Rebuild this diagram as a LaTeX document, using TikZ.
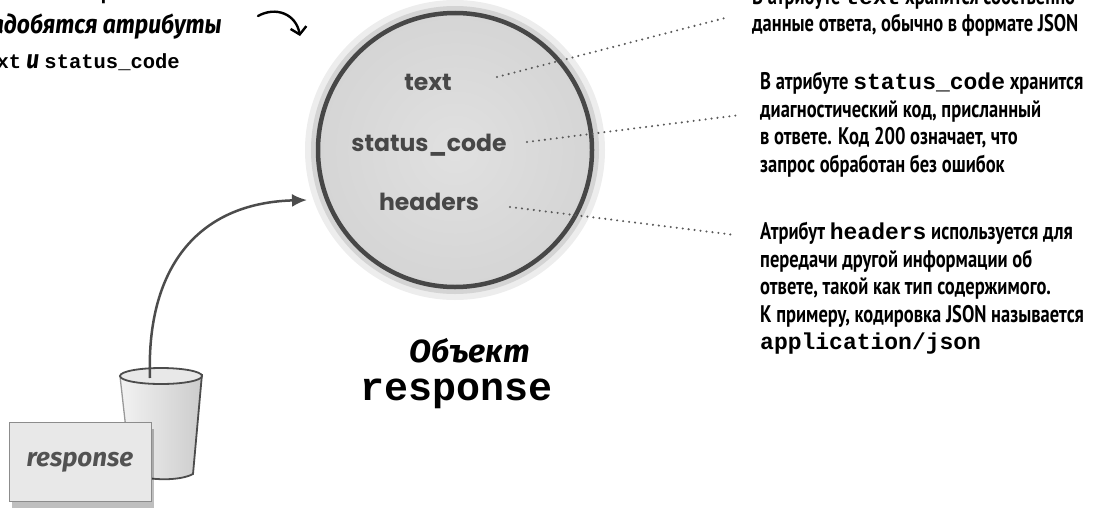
\documentclass[tikz,border=0pt]{standalone}
\usepackage{fontspec}
\setmainfont{PT Sans}
\newfontfamily\notefont[FakeStretch=0.77]{PT Sans}
\newfontfamily\codefont{Liberation Mono}
\newfontfamily\handfont{Fira Sans}
\newfontfamily\sketchfont[FakeStretch=0.88]{Fira Sans}
\newfontfamily\roundfont{Poppins}
\usetikzlibrary{shapes, arrows.meta, positioning, shadows}

\newcommand{\codeword}[2][23]{{\codefont\bfseries\upshape\fontsize{#1}{27.5}\selectfont #2}}

\pgfdeclareradialshading{bubble}{\pgfpoint{0bp}{0bp}}{%
  color(0bp)=(black!12); color(28bp)=(black!17); color(42bp)=(black!27); color(50bp)=(black!40)}

\tikzstyle{ball}      = [circle, minimum size=274pt, inner sep=0pt, shading=bubble, draw=black!72, line width=4.5pt]
\tikzstyle{attr}      = [text=black!72, font=\roundfont\bfseries\fontsize{23.5}{24}\selectfont]
\tikzstyle{note}      = [anchor=north west, align=left, inner sep=0pt, font=\notefont\bfseries\fontsize{24}{27.5}\selectfont]
\tikzstyle{hand}      = [anchor=base east, inner sep=0pt, font=\sketchfont\bfseries\itshape\fontsize{26}{30}\selectfont]
\tikzstyle{hint}      = [draw=black!65, line width=2.3pt, line cap=round, dash pattern=on 0pt off 6pt]
\tikzstyle{link}      = [draw=black!70, line width=2.5pt, -{Latex[length=15pt, width=13pt]}]
\tikzstyle{curl}      = [draw=black, line width=2.4pt, line cap=round, -{Straight Barb[length=7pt, width=16pt]}]
\tikzstyle{tag}       = [draw=black!45, fill=black!9, line width=1pt, minimum width=142pt, minimum height=79pt,
                         drop shadow={shadow xshift=3pt, shadow yshift=-6pt, fill=black, opacity=0.25},
                         text=black!68, font=\handfont\bfseries\itshape\fontsize{26}{26}\selectfont]
\tikzstyle{title}     = [font=\handfont\bfseries\itshape\fontsize{32}{32}\selectfont]
\tikzstyle{titlecode} = [font=\codefont\bfseries\fontsize{40}{40}\selectfont]

\begin{document}
\begin{tikzpicture}[x=1pt, y=-1pt]
\useasboundingbox (0,0) rectangle (1100,514);

% the object bubble with its soft halo
\fill [black!7]  (455,150) circle (150);
\fill [black!17] (455,150) circle (144);
\node [ball] at (455,150) (resp) {};

\node [attr] at (428, 82) (text)    {text};
\node [attr] at (429,145) (status)  {status\_code};
\node [attr] at (429,202) (headers) {headers};

\node [title]     at (470,351) (objname) {Объект};
\node [titlecode] at (457,394) (objcode) {response};

% hint in the corner
\node [hand] at (218, -1) (hintA) {объекта \codeword[20.5]{response}. Нам};
\node [hand] at (222, 33) (hintB) {понадобятся атрибуты};
\node [hand] at (180, 68) (hintC) {\codeword[20.5]{text} и \codeword[20.5]{status\_code}};

\coordinate (curlA) at (258,16);
\coordinate (curlB) at (300,36);
\draw [curl] (curlA) .. controls (276,6) and (296,14) .. (curlB);

% notes on the right
\node [note] at (752,-13.5) (textnote)   {В атрибуте \codeword{text} хранится собственно\\
                                           данные ответа, обычно в формате JSON};
\node [note] at (760, 72)   (statusnote) {В атрибуте \codeword{status\_code} хранится\\
                                           диагностический код, присланный\\
                                           в ответе. Код 200 означает, что\\
                                           запрос обработан без ошибок};
\node [note] at (760,222)   (headnote)   {Атрибут \codeword{headers} используется для\\
                                           передачи другой информации об\\
                                           ответе, такой как тип содержимого.\\
                                           К примеру, кодировка JSON называется\\
                                           \codeword{application/json}};

% dotted leaders
\coordinate (textA)   at (497, 77);
\coordinate (textB)   at (725, 18);
\coordinate (statusA) at (527,142);
\coordinate (statusB) at (740,115);
\coordinate (headA)   at (510,207);
\coordinate (headB)   at (735,235);
\path [hint] (textA)   -- (textB);
\path [hint] (statusA) -- (statusB);
\path [hint] (headA)   -- (headB);

% the cup the response comes out of
\shade [left color=black!5, right color=black!20]
  (120,374) -- (131,474) .. controls (150,481) and (180,481) .. (193,474) -- (202,374) -- cycle;
\draw [black!40, line width=1.3pt] (120,376) -- (131,474);
\draw [black!70, line width=1.8pt] (131,474) .. controls (150,481) and (180,481) .. (193,474) -- (202,374);
\draw [black!70, line width=1.8pt, fill=black!9] (161,376) ellipse [x radius=41, y radius=8];
\coordinate (cuptop) at (150,378);

\node [tag] at (80,462) (label) {response};

\coordinate (rim) at (307,200);
\draw [link] (cuptop) .. controls (146,270) and (196,203) .. (rim);

\end{tikzpicture}
\end{document}
